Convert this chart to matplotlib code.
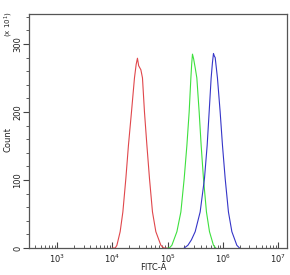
import numpy as np
import matplotlib
matplotlib.use("Agg")
import matplotlib.pyplot as plt
from matplotlib.ticker import FixedLocator

red_logx = [4.00, 4.05, 4.081, 4.14, 4.189, 4.243, 4.290, 4.345, 4.399, 4.430, 4.453,
            4.475, 4.515, 4.544, 4.580, 4.624, 4.671, 4.725, 4.786, 4.877, 4.93, 4.98]
red_count = [0, 0, 4, 24, 53, 102, 151, 200, 250, 270, 279,
             268, 262, 250, 200, 151, 102, 53, 24, 4, 0, 0]

green_logx = [5.00, 5.03, 5.076, 5.167, 5.239, 5.299, 5.348, 5.389, 5.420, 5.436, 5.449,
              5.47, 5.50, 5.528, 5.570, 5.606, 5.648, 5.702, 5.757, 5.829, 5.87]
green_count = [0, 0, 4, 24, 53, 102, 151, 200, 250, 272, 285,
               278, 264, 250, 200, 151, 102, 53, 24, 4, 0]

blue_logx = [5.30, 5.366, 5.43, 5.498, 5.588, 5.666, 5.715, 5.751, 5.787, 5.81, 5.829,
             5.845, 5.860, 5.901, 5.950, 5.992, 6.041, 6.100, 6.162, 6.252, 6.30]
blue_count = [0, 4, 12, 24, 53, 102, 151, 200, 250, 272, 286,
              282, 280, 250, 200, 151, 102, 53, 24, 4, 0]

fig = plt.figure(figsize=(2.9, 2.75), dpi=100)
ax = fig.add_axes([29/290, 1 - 248/275, 258/290, 234/275])

ax.plot(10 ** np.array(red_logx), red_count, color='#e0474c', lw=0.8)
ax.plot(10 ** np.array(green_logx), green_count, color='#3ee03e', lw=0.8)
ax.plot(10 ** np.array(blue_logx), blue_count, color='#3535c8', lw=0.8)

ax.set_xscale('log')
ax.set_xlim(10 ** 2.49, 10 ** 7.16)
ax.set_ylim(0, 344)

ax.set_xticks([1e3, 1e4, 1e5, 1e6, 1e7])
ax.set_xticklabels([r'$10^3$', r'$10^4$', r'$10^5$', r'$10^6$', r'$10^7$'])
ax.tick_params(axis='x', which='both', direction='in', labelsize=6, colors='#444444',
               labelcolor='#222222', pad=3)
ax.tick_params(axis='x', which='major', length=4)
ax.tick_params(axis='x', which='minor', length=2.5)

ax.set_yticks([0, 100, 200, 300])
ax.yaxis.set_minor_locator(FixedLocator(np.arange(0, 344, 20)))
ax.tick_params(axis='y', which='both', direction='out', labelsize=6, colors='#444444',
               labelcolor='#222222', pad=1)
ax.tick_params(axis='y', which='major', length=4)
ax.tick_params(axis='y', which='minor', length=2.5)
for lab in ax.get_yticklabels():
    lab.set_rotation(90)
    lab.set_va('center')

for s in ax.spines.values():
    s.set_color('#555555')
    s.set_linewidth(0.9)

fig.text(153/290, 1 - 268/275, 'FITC-A', fontsize=6, ha='center', va='center', color='#222222')
fig.text(8/290, 1 - 140/275, 'Count', fontsize=6, rotation=90, ha='center', va='center', color='#222222')
fig.text(9/290, 1 - 24/275, r'(x 10$^1$)', fontsize=5, rotation=90, ha='center', va='center', color='#222222')

fig.savefig('out.png', dpi=100)
